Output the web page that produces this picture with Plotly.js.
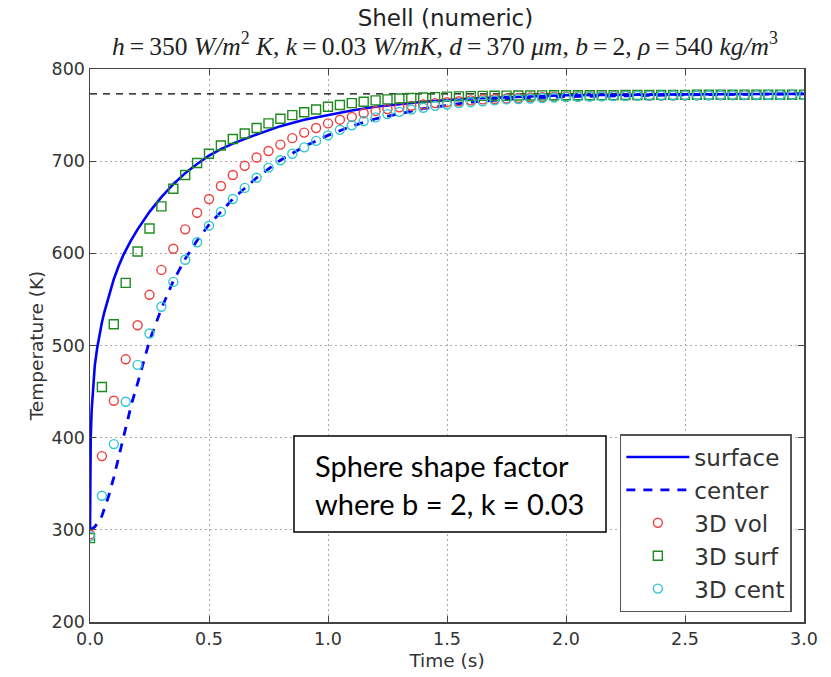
<!DOCTYPE html>
<html>
<head>
<meta charset="utf-8">
<script src="https://cdn.plot.ly/plotly-3.0.1.min.js"></script>
<style>html,body{margin:0;padding:0;background:#fff;}#chart{width:831px;height:677px;}</style>
</head>
<body>
<div id="chart"></div>
<script>
// ---- data ----
const surfaceTime = [0, 0.001, 0.003, 0.007, 0.014, 0.02, 0.03, 0.04, 0.05, 0.06, 0.077, 0.1, 0.12, 0.14, 0.17, 0.2, 0.25, 0.3, 0.35, 0.4, 0.45, 0.5, 0.55, 0.6, 0.7, 0.8, 0.9, 1.0, 1.1, 1.2, 1.3, 1.4, 1.6, 1.8, 2.0, 2.5, 3.0];
const surfaceTemp = [300, 360, 400, 430, 460, 478, 497, 512, 525, 536, 552, 572, 586, 598, 613, 626, 645, 661, 675, 687, 697, 706, 713, 719, 729, 738, 745, 750, 755, 759, 762, 764.5, 768, 770, 771.5, 772.5, 773];

const centerTime = [0, 0.02, 0.05, 0.08, 0.1, 0.125, 0.15, 0.175, 0.2, 0.25, 0.3, 0.35, 0.4, 0.45, 0.5, 0.6, 0.7, 0.8, 0.9, 1.0, 1.1, 1.2, 1.4, 1.6, 1.8, 2.0, 2.5, 3.0];
const centerTemp = [300, 303, 315, 338, 357, 383, 412, 437, 459, 505, 540, 570, 594, 614, 631, 659, 682, 701, 716, 728, 738, 746, 757, 764, 768, 770, 772, 773];

const ambientTime = [0, 3];
const ambientTemp = [773, 773];

// 3D samples every 0.05 s from 0 to 3.0
const sampleTime = [0,0.05,0.1,0.15,0.2,0.25,0.3,0.35,0.4,0.45,0.5,0.55,0.6,0.65,0.7,0.75,0.8,0.85,0.9,0.95,
  1.0,1.05,1.1,1.15,1.2,1.25,1.3,1.35,1.4,1.45,1.5,1.55,1.6,1.65,1.7,1.75,1.8,1.85,1.9,1.95,
  2.0,2.05,2.1,2.15,2.2,2.25,2.3,2.35,2.4,2.45,2.5,2.55,2.6,2.65,2.7,2.75,2.8,2.85,2.9,2.95,3.0];
const vol3D = [295,380,440,485,522,555,582,605,626,644,659,673,685,695,704,711,718,725,731,736,
  741,745,748,752,754.5,756.5,758.5,760,761.5,763,764,765,766,767,767.5,768,768.5,769,769.5,770,
  770,770.3,770.5,770.7,770.9,771,771.1,771.2,771.3,771.4,771.5,771.6,771.6,771.7,771.7,771.8,771.8,771.9,771.9,772,772];
const surf3D = [291,455,523,568,602,627,651,670,685,698,708,717,724,730,736,741,746,750,753,756,
  759,761,763,764.5,766,767,768,768.5,769,769.5,770,770.3,770.6,770.8,771,771.1,771.2,771.3,771.4,771.5,
  771.5,771.6,771.6,771.7,771.7,771.8,771.8,771.8,771.9,771.9,771.9,772,772,772,772,772,772.1,772.1,772.1,772.1,772.2];
const cent3D = [293,337,393,439,479,513,542,569,593,612,630,645,659,671,682,693,701,708,715,722,
  728,734,739,743.5,747.5,751,753.5,756,758,760,761.5,763,764,765,766,767,767.5,768,768.5,769,
  769.5,769.8,770.1,770.4,770.6,770.8,771,771.1,771.2,771.3,771.4,771.5,771.5,771.6,771.6,771.7,771.7,771.8,771.8,771.9,771.9];

const legendNames = ["surface", "center", "3D vol", "3D surf", "3D cent"];
const noteLines = ["Sphere shape factor", "where b = 2, k = 0.03"];

const font = "DejaVu Sans, sans-serif";

const traces = [
  {x: ambientTime, y: ambientTemp, mode: "lines", line: {color: "#000", width: 1.3, dash: "7px,6px"}, showlegend: false, hoverinfo: "skip"},
  {x: surfaceTime, y: surfaceTemp, mode: "lines", name: legendNames[0], line: {color: "#0000ff", width: 2.6}},
  {x: centerTime, y: centerTemp, mode: "lines", name: legendNames[1], line: {color: "#0000ff", width: 2.8, dash: "9px,8px"}},
  {x: sampleTime, y: vol3D, mode: "markers", name: legendNames[2], marker: {symbol: "circle-open", size: 9, color: "#ee4040", line: {width: 1.4}}},
  {x: sampleTime, y: surf3D, mode: "markers", name: legendNames[3], marker: {symbol: "square-open", size: 9, color: "#1f8a1f", line: {width: 1.4}}},
  {x: sampleTime, y: cent3D, mode: "markers", name: legendNames[4], marker: {symbol: "circle-open", size: 9, color: "#30c8d0", line: {width: 1.4}}}
];

const axisCommon = {
  showgrid: true, gridcolor: "#aaaaaa", griddash: "2px,3px", gridwidth: 1,
  zeroline: false, showline: true, linecolor: "#444", linewidth: 1.5, mirror: "ticks",
  ticks: "inside", ticklen: 6, tickcolor: "#444",
  tickfont: {family: font, size: 17.5, color: "#333"}
};

const layout = {
  width: 831, height: 677,
  paper_bgcolor: "#fff", plot_bgcolor: "#fff",
  margin: {l: 90, r: 27, t: 69, b: 55},
  showlegend: true,
  legend: {
    x: 0.983, y: 0.018, xanchor: "right", yanchor: "bottom",
    bgcolor: "#fff", bordercolor: "#555", borderwidth: 1.5,
    font: {family: font, size: 23, color: "#333"},
    itemwidth: 63, tracegroupgap: 0
  },
  title: {text: "Shell (numeric)", font: {family: font, size: 23, color: "#222"}, x: 0.536, xanchor: "center", y: 0.973, yanchor: "middle"},
  xaxis: Object.assign({}, axisCommon, {
    range: [0, 3], dtick: 0.5, tick0: 0, tickformat: ".1f",
    title: {text: "Time (s)", font: {family: font, size: 18.5, color: "#333"}, standoff: 6}
  }),
  yaxis: Object.assign({}, axisCommon, {
    range: [200, 800], dtick: 100, tick0: 200,
    title: {text: "Temperature (K)", font: {family: font, size: 18.5, color: "#333"}, standoff: 3}
  }),
  shapes: [
    {type: "rect", xref: "paper", yref: "paper", x0: 0.2857, x1: 0.7227, y0: 0.1627, y1: 0.3363,
     fillcolor: "#fff", line: {color: "#000", width: 1.5}, layer: "above"}
  ],
  annotations: [
    {
      xref: "paper", yref: "paper", x: 0.497, y: 1.0434, xanchor: "center", yanchor: "middle",
      showarrow: false,
      text: "<i>h</i>\u2009=\u2009350 <i>W/m</i><sup>2</sup> <i>K</i>, <i>k</i>\u2009=\u20090.03 <i>W/mK</i>, <i>d</i>\u2009=\u2009370 <i>μm</i>, <i>b</i>\u2009=\u20092, <i>ρ</i>\u2009=\u2009540 <i>kg/m</i><sup>3</sup>",
      font: {family: "Liberation Serif, serif", size: 25.5, color: "#222"}
    },
    {
      xref: "paper", yref: "paper", x: 0.3123, y: 0.2495, xanchor: "left", yanchor: "middle",
      showarrow: false, align: "left",
      text: noteLines.join("<br>"),
      font: {family: "Lato, sans-serif", size: 29, color: "#000"}
    }
  ]
};

Plotly.newPlot("chart", traces, layout, {displayModeBar: false, staticPlot: true});
</script>
</body>
</html>
